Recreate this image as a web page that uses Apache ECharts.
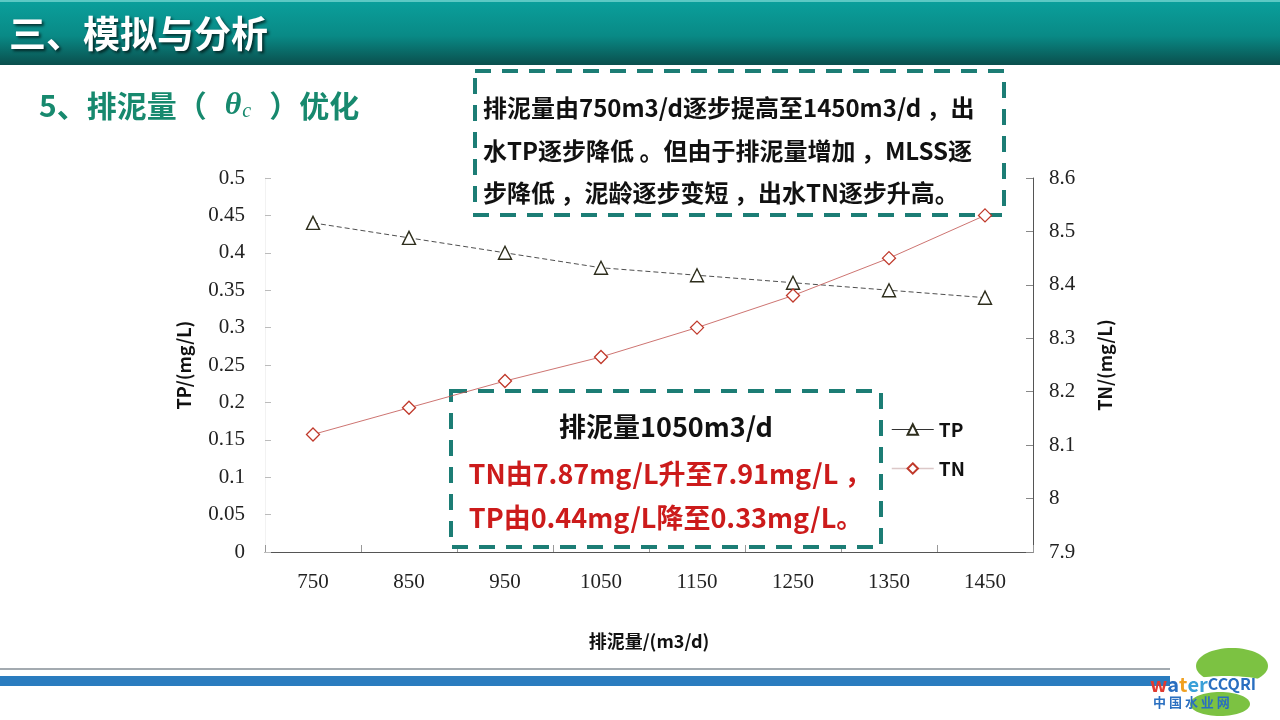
<!DOCTYPE html>
<html>
<head>
<meta charset="utf-8">
<style>
  html, body { margin: 0; padding: 0; background: #ffffff; }
  #chart { width: 1280px; height: 720px; }
</style>
<script src="https://cdn.jsdelivr.net/npm/echarts@6/dist/echarts.min.js"></script>
</head>
<body>
<div id="chart"></div>
<script>
// Sludge discharge rate (m3/d) and effluent quality
const categories = ['750', '850', '950', '1050', '1150', '1250', '1350', '1450'];
const tpValues = [0.44, 0.42, 0.40, 0.38, 0.37, 0.36, 0.35, 0.34];
const tnValues = [8.12, 8.17, 8.22, 8.265, 8.32, 8.38, 8.45, 8.53];

const leftAxis = { name: 'TP/(mg/L)', min: 0, max: 0.5, interval: 0.05 };
const rightAxis = { name: 'TN/(mg/L)', min: 7.9, max: 8.6, interval: 0.1 };
const xAxisName = '排泥量/(m3/d)';

const pageTitle = '三、模拟与分析';
const noteTop = [
  '排泥量由750m3/d逐步提高至1450m3/d ，出',
  '水TP逐步降低 。但由于排泥量增加 ，MLSS逐',
  '步降低 ，泥龄逐步变短 ，出水TN逐步升高。'
];
const noteMid = [
  '排泥量1050m3/d',
  'TN由7.87mg/L升至7.91mg/L ，',
  'TP由0.44mg/L降至0.33mg/L。'
];

const CJK = '"Noto Sans CJK SC", "Noto Sans", sans-serif';
const SERIF = '"Liberation Serif", "DejaVu Serif", serif';
const TEAL = '#1c7d75';

const chart = echarts.init(document.getElementById('chart'), null, { renderer: 'canvas' });

const tickLabel = { fontFamily: SERIF, fontSize: 21, color: '#222' };
const nameStyle = { fontFamily: CJK, fontSize: 18, fontWeight: 'bold', color: '#111' };

const option = {
  backgroundColor: '#ffffff',
  animation: false,
  grid: { left: 265, right: 247, top: 178, bottom: 168, containLabel: false },
  legend: {
    orient: 'vertical',
    left: 886,
    top: 415,
    itemWidth: 42,
    itemHeight: 13,
    itemGap: 20,
    textStyle: { fontFamily: CJK, fontSize: 19, fontWeight: 'bold', color: '#111' },
    data: [
      { name: 'TP', lineStyle: { type: 'solid', color: '#333', width: 1 } },
      { name: 'TN', lineStyle: { type: 'solid', color: '#dcc8c8', width: 1.5 } }
    ]
  },
  xAxis: {
    type: 'category',
    data: categories,
    boundaryGap: true,
    name: xAxisName,
    nameLocation: 'middle',
    nameGap: 80,
    nameTextStyle: nameStyle,
    axisLine: { lineStyle: { color: '#555', width: 1 } },
    axisTick: { show: true, inside: true, length: 7, lineStyle: { color: '#999' } },
    axisLabel: Object.assign({ margin: 20 }, tickLabel),
    splitLine: { show: false }
  },
  yAxis: [
    {
      type: 'value',
      position: 'left',
      min: leftAxis.min, max: leftAxis.max, interval: leftAxis.interval,
      name: leftAxis.name,
      nameLocation: 'middle',
      nameGap: 72,
      nameTextStyle: nameStyle,
      axisLine: { show: true, lineStyle: { color: '#f2f2f2' } },
      axisTick: { show: true, inside: true, length: 6, lineStyle: { color: '#bbb' } },
      axisLabel: Object.assign({ margin: 20, formatter: v => String(+v.toFixed(2)) }, tickLabel),
      splitLine: { show: false }
    },
    {
      type: 'value',
      position: 'right',
      min: rightAxis.min, max: rightAxis.max, interval: rightAxis.interval,
      name: rightAxis.name,
      nameLocation: 'middle',
      nameGap: 63,
      nameRotate: 90,
      nameTextStyle: nameStyle,
      axisLine: { show: true, lineStyle: { color: '#555', width: 1 } },
      axisTick: { show: true, inside: true, length: 7, lineStyle: { color: '#888' } },
      axisLabel: Object.assign({ margin: 16, formatter: v => String(+v.toFixed(1)) }, tickLabel),
      splitLine: { show: false }
    }
  ],
  series: [
    {
      name: 'TP',
      type: 'line',
      yAxisIndex: 0,
      data: tpValues,
      symbol: 'triangle',
      symbolSize: 13,
      z: 5,
      lineStyle: { color: '#222', width: 0.8, type: [5, 3] },
      itemStyle: { color: '#ffffff', borderColor: '#2d2d1c', borderWidth: 1.4 }
    },
    {
      name: 'TN',
      type: 'line',
      yAxisIndex: 1,
      data: tnValues,
      symbol: 'diamond',
      symbolSize: 13,
      z: 5,
      lineStyle: { color: '#c0504d', width: 0.8 },
      itemStyle: { color: '#ffffff', borderColor: '#c0392b', borderWidth: 1.3 }
    }
  ],
  graphic: [
    // header band
    {
      type: 'rect', z: 0,
      shape: { x: 0, y: 0, width: 1280, height: 65 },
      style: {
        fill: new echarts.graphic.LinearGradient(0, 0, 0, 1, [
          { offset: 0, color: '#0aa09c' },
          { offset: 0.55, color: '#098a86' },
          { offset: 1, color: '#0a4f4d' }
        ])
      }
    },
    {
      type: 'rect', z: 1,
      shape: { x: 0, y: 0, width: 1280, height: 2 },
      style: { fill: '#5cc9c4' }
    },
    {
      type: 'text', z: 2,
      x: 9, y: 34,
      style: {
        text: pageTitle,
        fontFamily: CJK, fontSize: 37, fontWeight: 'bold',
        fill: '#ffffff', verticalAlign: 'middle',
        textShadowColor: 'rgba(0,0,0,0.65)', textShadowBlur: 3,
        textShadowOffsetX: 2, textShadowOffsetY: 2
      }
    },
    // section heading
    {
      type: 'text', z: 2,
      x: 39, y: 106,
      style: {
        text: '{a|5、排泥量（}{g|}{t|θ}{s|c}{g|}{a|）优化}',
        verticalAlign: 'middle',
        rich: {
          a: { fontFamily: CJK, fontSize: 30, fontWeight: 'bold', fill: '#17896e' },
          g: { width: 18 },
          t: { fontFamily: SERIF, fontSize: 32, fontStyle: 'italic', fontWeight: 'bold', fill: '#17896e' },
          s: { fontFamily: SERIF, fontSize: 20, fontStyle: 'italic', fill: '#17896e', padding: [12, 0, 0, 1] }
        }
      }
    },
    // upper note box
    {
      type: 'rect', z: 1,
      shape: { x: 475, y: 71, width: 529, height: 144 },
      style: { fill: 'rgba(255,255,255,0)', stroke: TEAL, lineWidth: 4, lineDash: [16, 11] }
    },
    {
      type: 'text', z: 2, x: 483, y: 108,
      style: { text: noteTop[0], fontFamily: CJK, fontSize: 24, fontWeight: 'bold', fill: '#111', verticalAlign: 'middle' }
    },
    {
      type: 'text', z: 2, x: 483, y: 151,
      style: { text: noteTop[1], fontFamily: CJK, fontSize: 24, fontWeight: 'bold', fill: '#111', verticalAlign: 'middle' }
    },
    {
      type: 'text', z: 2, x: 483, y: 193,
      style: { text: noteTop[2], fontFamily: CJK, fontSize: 24, fontWeight: 'bold', fill: '#111', verticalAlign: 'middle' }
    },
    // middle note box
    {
      type: 'rect', z: 1,
      shape: { x: 451, y: 391, width: 430, height: 156 },
      style: { fill: 'rgba(255,255,255,0)', stroke: TEAL, lineWidth: 4, lineDash: [16, 11] }
    },
    {
      type: 'text', z: 2, x: 666, y: 427,
      style: { text: noteMid[0], fontFamily: CJK, fontSize: 27, fontWeight: 'bold', fill: '#111', align: 'center', verticalAlign: 'middle' }
    },
    {
      type: 'text', z: 2, x: 670, y: 474,
      style: { text: noteMid[1], fontFamily: CJK, fontSize: 27, fontWeight: 'bold', fill: '#cc1b1b', align: 'center', verticalAlign: 'middle' }
    },
    {
      type: 'text', z: 2, x: 666, y: 518,
      style: { text: noteMid[2], fontFamily: CJK, fontSize: 27, fontWeight: 'bold', fill: '#cc1b1b', align: 'center', verticalAlign: 'middle' }
    },
    // footer rules
    {
      type: 'rect', z: 0,
      shape: { x: 0, y: 668, width: 1170, height: 2 },
      style: { fill: '#a3aab0' }
    },
    {
      type: 'rect', z: 0,
      shape: { x: 0, y: 676, width: 1170, height: 10 },
      style: { fill: '#2a7cbf' }
    },
    // site mark
    {
      type: 'ellipse', z: 1,
      shape: { cx: 1232, cy: 666, rx: 36, ry: 18 },
      style: { fill: '#7cc242' }
    },
    {
      type: 'ellipse', z: 1,
      shape: { cx: 1220, cy: 704, rx: 30, ry: 12 },
      style: { fill: '#7cc242' }
    },
    {
      type: 'ellipse', z: 1,
      shape: { cx: 1226, cy: 684, rx: 42, ry: 8 },
      style: { fill: '#ffffff' }
    },
    {
      type: 'text', z: 3, x: 1150, y: 684,
      style: {
        text: '{w|w}{a|a}{t|t}{e|er}{c|CCQRI}',
        verticalAlign: 'middle',
        rich: {
          w: { fontFamily: CJK, fontSize: 20, fontWeight: 'bold', fill: '#e03a2f' },
          a: { fontFamily: CJK, fontSize: 20, fontWeight: 'bold', fill: '#2a6fc0' },
          t: { fontFamily: CJK, fontSize: 20, fontWeight: 'bold', fill: '#f0a020' },
          e: { fontFamily: CJK, fontSize: 20, fontWeight: 'bold', fill: '#3aa0d8' },
          c: { fontFamily: CJK, fontSize: 16, fontWeight: 'bold', fill: '#2a6fc0' }
        }
      }
    },
    {
      type: 'text', z: 3, x: 1153, y: 702,
      style: { text: '中 国 水 业 网', fontFamily: CJK, fontSize: 13, fontWeight: 'bold', fill: '#2a6fc0', verticalAlign: 'middle' }
    }
  ]
};

chart.setOption(option);
</script>
</body>
</html>
